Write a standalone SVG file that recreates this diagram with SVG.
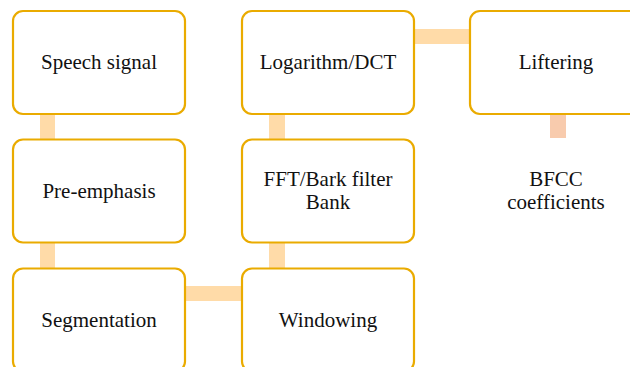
<svg xmlns="http://www.w3.org/2000/svg" width="630" height="367" viewBox="0 0 630 367">
<style>
.box{fill:#fff;stroke:#EAAB00;stroke-width:2.2}
text{font-family:'Liberation Serif','Times New Roman',Times,serif;font-size:21px;fill:#111;text-anchor:middle}
.c{fill:#FFDBA8}
.c2{fill:#F8CBAD}
</style>
<rect width="630" height="367" fill="#fff"/>
<g id="connectors">
<rect class="c" x="40" y="114" width="15" height="26"/>
<rect class="c" x="40" y="242" width="15" height="27"/>
<rect class="c" x="185" y="286" width="57" height="15"/>
<rect class="c" x="269" y="242" width="16" height="27"/>
<rect class="c" x="269" y="114" width="16" height="26"/>
<rect class="c" x="414" y="29" width="56" height="15"/>
<rect class="c2" x="550" y="114" width="16" height="24"/>
</g>
<g id="speech"><rect class="box" x="13" y="11" width="172" height="103" rx="10"/><text x="99" y="69">Speech signal</text></g>
<g id="preemphasis"><rect class="box" x="13" y="139.5" width="172" height="103" rx="10"/><text x="99" y="197.5">Pre-emphasis</text></g>
<g id="segmentation"><rect class="box" x="13" y="268.5" width="172" height="103" rx="10"/><text x="99" y="326.5">Segmentation</text></g>
<g id="windowing"><rect class="box" x="242" y="268.5" width="172" height="103" rx="10"/><text x="328" y="326.5">Windowing</text></g>
<g id="fft"><rect class="box" x="242" y="139.5" width="172" height="103" rx="10"/><text x="328" y="186">FFT/Bark filter</text><text x="328" y="209">Bank</text></g>
<g id="log"><rect class="box" x="242" y="11" width="172" height="103" rx="10"/><text x="328" y="69">Logarithm/DCT</text></g>
<g id="liftering"><rect class="box" x="470" y="11" width="172" height="103" rx="10"/><text x="556" y="69">Liftering</text></g>
<g id="bfcc"><text x="556" y="186">BFCC</text><text x="556" y="209">coefficients</text></g>
</svg>
